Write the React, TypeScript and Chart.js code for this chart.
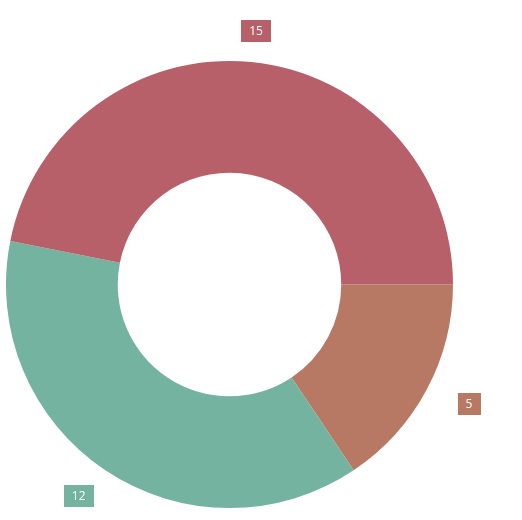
import React, { useEffect, useRef } from "react";
import { Chart, registerables } from "chart.js";

Chart.register(...registerables);

const categories = ["A", "B", "C"];
const values = [5, 12, 15];
const colors = ["#b77963", "#73b3a0", "#b8606a"];

const labelPlugin = {
  id: "outsideLabels",
  afterDatasetsDraw(chart: any) {
    const ctx = chart.ctx;
    const meta = chart.getDatasetMeta(0);
    ctx.save();
    ctx.font = "12px 'Open Sans', sans-serif";
    ctx.textAlign = "center";
    ctx.textBaseline = "middle";
    meta.data.forEach((arc: any, i: number) => {
      const p = arc.getProps(["x", "y", "startAngle", "endAngle", "outerRadius"], true);
      const mid = (p.startAngle + p.endAngle) / 2;
      const cx = p.x + Math.cos(mid) * (p.outerRadius + 48);
      const cy = p.y + Math.sin(mid) * (p.outerRadius + 31);
      const text = String(values[i]);
      const tw = ctx.measureText(text).width;
      const w = tw + 16;
      const h = 22;
      ctx.fillStyle = colors[i];
      ctx.fillRect(Math.round(cx - w / 2), Math.round(cy - h / 2), Math.round(w), h);
      ctx.fillStyle = "#ffffff";
      ctx.fillText(text, cx, cy + 0.5);
    });
    ctx.restore();
  },
};

export default function App() {
  const ref = useRef<HTMLCanvasElement>(null);
  useEffect(() => {
    if (!ref.current) return;
    const chart = new Chart(ref.current, {
      type: "doughnut",
      data: {
        labels: categories,
        datasets: [
          {
            data: values,
            backgroundColor: colors,
            borderWidth: 0,
          },
        ],
      },
      options: {
        animation: false,
        responsive: false,
        rotation: 90,
        cutout: "50%",
        layout: { padding: { left: 6, right: 69, top: 61, bottom: 12 } },
        plugins: {
          legend: { display: false },
          tooltip: { enabled: false },
        },
      },
      plugins: [labelPlugin],
    });
    return () => chart.destroy();
  }, []);
  return (
    <div style={{ position: "absolute", left: 0, top: 0, width: 522, height: 520 }}>
      <canvas ref={ref} width={522} height={520} style={{ display: "block" }} />
    </div>
  );
}
